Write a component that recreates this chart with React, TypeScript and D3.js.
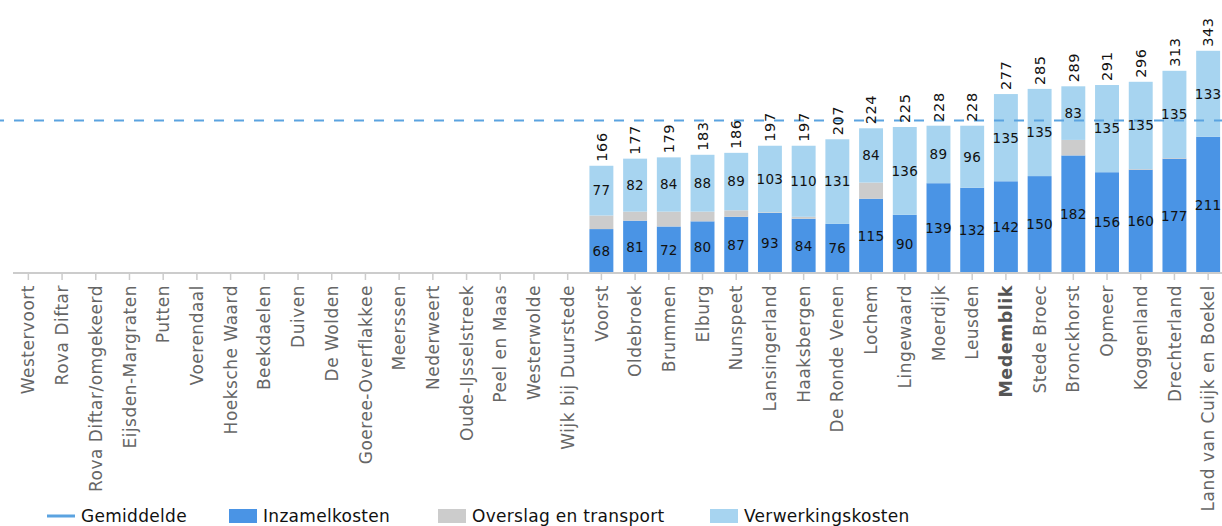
import * as d3 from 'd3';

const categories = [
  'Westervoort', 'Rova Diftar', 'Rova Diftar/omgekeerd', 'Eijsden-Margraten', 'Putten', 'Voerendaal',
  'Hoeksche Waard', 'Beekdaelen', 'Duiven', 'De Wolden', 'Goeree-Overflakkee', 'Meerssen', 'Nederweert',
  'Oude-IJsselstreek', 'Peel en Maas', 'Westerwolde', 'Wijk bij Duurstede',
  'Voorst', 'Oldebroek', 'Brummen', 'Elburg', 'Nunspeet', 'Lansingerland', 'Haaksbergen', 'De Ronde Venen',
  'Lochem', 'Lingewaard', 'Moerdijk', 'Leusden', 'Medemblik', 'Stede Broec', 'Bronckhorst', 'Opmeer',
  'Koggenland', 'Drechterland', 'Land van Cuijk en Boekel',
];

const empty = Array(17).fill(null);

const inzamelkosten: (number | null)[] = [...empty,
  68, 81, 72, 80, 87, 93, 84, 76, 115, 90, 139, 132, 142, 150, 182, 156, 160, 177, 211];
const overslag: (number | null)[] = [...empty,
  21, 14, 23, 15, 10, 1, 3, 0, 25, 0, 0, 0, 0, 0, 24, 0, 1, 1, 0];
const verwerking: (number | null)[] = [...empty,
  77, 82, 84, 88, 89, 103, 110, 131, 84, 136, 89, 96, 135, 135, 83, 135, 135, 135, 133];
const totals: (number | null)[] = [...empty,
  166, 177, 179, 183, 186, 197, 197, 207, 224, 225, 228, 228, 277, 285, 289, 291, 296, 313, 343];

const gemiddelde = 236;
const highlight = 'Medemblik';

const C_INZ = '#4a94e5';
const C_OVR = '#cccccc';
const C_VER = '#a7d4f0';
const C_AVG = '#5ba3e0';
const FONT = '"DejaVu Sans", Verdana, sans-serif';

const W = 1222;
const H = 526;

export default function App() {
  const x = d3.scaleBand<string>().domain(categories).range([11.5, 1225]).paddingInner(0.29).paddingOuter(0.145);
  const y = d3.scaleLinear().domain([0, 400]).range([273, 14.6]);
  const bw = x.bandwidth();

  const series = [
    { key: 'Inzamelkosten', values: inzamelkosten, color: C_INZ, label: true },
    { key: 'Overslag en transport', values: overslag, color: C_OVR, label: false },
    { key: 'Verwerkingskosten', values: verwerking, color: C_VER, label: true },
  ];

  const bars: JSX.Element[] = [];
  const labels: JSX.Element[] = [];
  categories.forEach((cat, i) => {
    if (totals[i] == null) return;
    let base = 0;
    const x0 = x(cat)!;
    series.forEach(s => {
      const v = s.values[i] ?? 0;
      if (v > 0) {
        bars.push(
          <rect key={s.key + i} x={x0} width={bw} y={y(base + v)} height={y(base) - y(base + v)} fill={s.color} />
        );
        if (s.label) {
          labels.push(
            <text key={'l' + s.key + i} x={x0 + bw / 2} y={y(base + v / 2)} dy="0.36em" textAnchor="middle"
              fontSize={13.5} letterSpacing={0.3} fill="#111">{v}</text>
          );
        }
      }
      base += v;
    });
    const cx = x0 + bw / 2;
    const ty = y(base) - 4;
    labels.push(
      <text key={'t' + i} transform={`translate(${cx},${ty}) rotate(-90)`} dy="0.36em" textAnchor="start"
        fontSize={14.5} letterSpacing={0.6} fill="#111">{totals[i]}</text>
    );
  });

  const legendItems = [
    { name: 'Gemiddelde', x: 47, type: 'line', color: C_AVG },
    { name: 'Inzamelkosten', x: 229, type: 'rect', color: C_INZ },
    { name: 'Overslag en transport', x: 438, type: 'rect', color: C_OVR },
    { name: 'Verwerkingskosten', x: 710, type: 'rect', color: C_VER },
  ];

  return (
    <svg width={W} height={H} style={{ position: 'absolute', left: 0, top: 0, fontFamily: FONT }}>
      <rect width={W} height={H} fill="#fff" />
      {bars}
      <line x1={-6} x2={W} y1={y(gemiddelde)} y2={y(gemiddelde)} stroke={C_AVG} strokeWidth={2}
        strokeDasharray="10,10" />
      {labels}
      {/* x axis */}
      <line x1={13} x2={W} y1={273} y2={273} stroke="#cccccc" strokeWidth={2} />
      {categories.map(cat => {
        const cx = x(cat)! + bw / 2;
        const hl = cat === highlight;
        return (
          <g key={'ax' + cat}>
            <line x1={cx} x2={cx} y1={273} y2={280} stroke="#cccccc" strokeWidth={1.5} />
            <text transform={`translate(${cx},285) rotate(-90)`} dy="0.36em" textAnchor="end"
              fontSize={hl ? 17.5 : 17} letterSpacing={0.5} fontWeight={hl ? 'bold' : 'normal'}
              fill={hl ? '#555' : '#666'}>{cat}</text>
          </g>
        );
      })}
      {/* legend */}
      {legendItems.map(it => (
        <g key={it.name}>
          {it.type === 'line'
            ? <line x1={it.x} x2={it.x + 28} y1={516} y2={516} stroke={it.color} strokeWidth={3} />
            : <rect x={it.x} y={509} width={28} height={14} fill={it.color} />}
          <text x={it.x + 34} y={516} dy="0.36em" fontSize={17} letterSpacing={0.3} fill="#111">{it.name}</text>
        </g>
      ))}
    </svg>
  );
}
